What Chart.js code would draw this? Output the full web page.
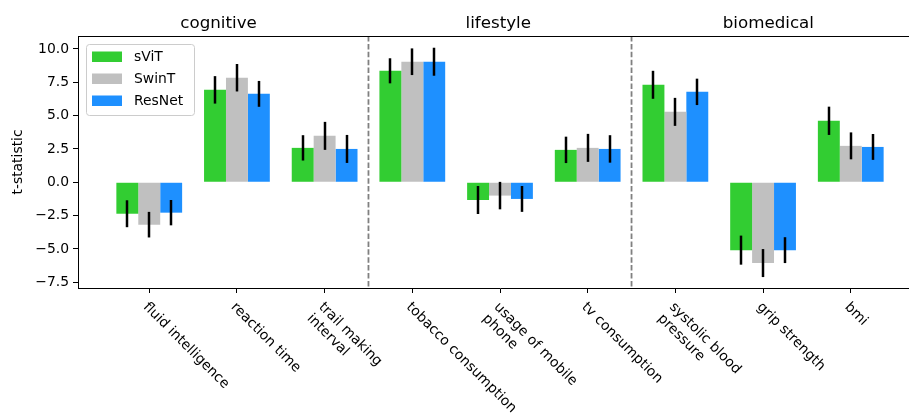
<!DOCTYPE html>
<html>
<head>
<meta charset="utf-8">
<script src="https://cdn.jsdelivr.net/npm/chart.js@4/dist/chart.umd.min.js"></script>
<style>
    html, body { margin: 0; padding: 0; overflow: hidden; background: #ffffff; }
    #wrap { width: 922px; height: 418px; }
</style>
</head>
<body>
<div id="wrap"><canvas id="tstat-chart"></canvas></div>
<script>
// Categories shown along the x axis (\n = second line)
const categories = [
    'fluid intelligence', 'reaction time', 'trail making\ninterval',
    'tobacco consumption', 'usage of mobile\nphone', 'tv consumption',
    'systolic blood\npressure', 'grip strength', 'bmi'
];

// Group headings above the plot and where they sit (in category units)
const groupNames = ['cognitive', 'lifestyle', 'biomedical'];
const groupCenters = [0.79, 3.98, 7.06];
// Dashed separators between groups
const separators = [2.5, 5.5];

// t-statistic per model
const svitValues = [-2.36, 6.93, 2.58, 8.36, -1.33, 2.43, 7.31, -5.09, 4.61];
const swintValues = [-3.18, 7.84, 3.48, 9.04, -1.0, 2.58, 5.28, -6.06, 2.73];
const resnetValues = [-2.28, 6.63, 2.50, 9.04, -1.25, 2.50, 6.78, -5.09, 2.65];

// Error bar half-lengths per model
const svitErrors = [1.01, 1.03, 0.95, 0.94, 1.05, 0.99, 1.05, 1.09, 1.06];
const swintErrors = [0.96, 1.03, 1.05, 1.0, 1.03, 1.05, 1.05, 1.05, 1.01];
const resnetErrors = [0.95, 0.97, 1.05, 1.05, 0.97, 1.03, 0.99, 0.97, 0.97];

// y axis ticks
const yTicks = [-7.5, -5.0, -2.5, 0.0, 2.5, 5.0, 7.5, 10.0];

const FONT = "'DejaVu Sans', sans-serif";

// Helper to turn a value list into {x, y} points
function toPoints(values) {
    return values.map((v, i) => ({ x: i, y: v }));
}

const errorSets = [svitErrors, swintErrors, resnetErrors];

// Plugin: error bars, separators, group titles, rotated labels, legend, frame
const decorations = {
    id: 'decorations',
    afterDatasetsDraw(chart) {
        const ctx = chart.ctx;
        const xScale = chart.scales.x;
        const yScale = chart.scales.y;
        const area = chart.chartArea;

        // dashed separators
        ctx.save();
        ctx.strokeStyle = '#808080';
        ctx.lineWidth = 1.8;
        ctx.setLineDash([5.5, 2.4]);
        separators.forEach(s => {
            const x = xScale.getPixelForValue(s);
            ctx.beginPath();
            ctx.moveTo(x, area.top);
            ctx.lineTo(x, area.bottom);
            ctx.stroke();
        });
        ctx.restore();

        // error bars
        ctx.save();
        ctx.strokeStyle = '#000000';
        ctx.lineWidth = 2.5;
        chart.data.datasets.forEach((ds, d) => {
            const meta = chart.getDatasetMeta(d);
            meta.data.forEach((bar, i) => {
                const v = ds.data[i].y;
                const e = errorSets[d][i];
                ctx.beginPath();
                ctx.moveTo(Math.round(bar.x), yScale.getPixelForValue(v + e));
                ctx.lineTo(Math.round(bar.x), yScale.getPixelForValue(v - e));
                ctx.stroke();
            });
        });
        ctx.restore();
    },
    afterDraw(chart) {
        const ctx = chart.ctx;
        const xScale = chart.scales.x;
        const area = chart.chartArea;

        // frame (top spine; right spine falls outside the window)
        ctx.save();
        ctx.strokeStyle = '#000000';
        ctx.lineWidth = 1;
        ctx.beginPath();
        ctx.moveTo(area.left, area.top + 0.5);
        ctx.lineTo(area.right, area.top + 0.5);
        ctx.stroke();
        ctx.restore();

        // group headings
        ctx.save();
        ctx.fillStyle = '#000000';
        ctx.font = '16.7px ' + FONT;
        ctx.textAlign = 'center';
        ctx.textBaseline = 'alphabetic';
        groupNames.forEach((name, k) => {
            ctx.fillText(name, xScale.getPixelForValue(groupCenters[k]), 28);
        });
        ctx.restore();

        // rotated x labels
        ctx.save();
        ctx.fillStyle = '#000000';
        ctx.font = '13.9px ' + FONT;
        ctx.textAlign = 'left';
        ctx.textBaseline = 'top';
        categories.forEach((label, i) => {
            const x = xScale.getPixelForValue(i) + 1;
            const y = area.bottom + 12;
            ctx.save();
            ctx.translate(x, y);
            ctx.rotate(Math.PI / 4);
            label.split('\n').forEach((line, k) => {
                ctx.fillText(line, 0, k * 16.4);
            });
            ctx.restore();
        });
        ctx.restore();

        // legend box
        ctx.save();
        const lx = area.left + 8, ly = area.top + 8, lw = 108, lh = 71;
        ctx.fillStyle = 'rgba(255,255,255,0.8)';
        ctx.strokeStyle = '#cccccc';
        ctx.lineWidth = 1;
        ctx.beginPath();
        ctx.roundRect(lx + 0.5, ly + 0.5, lw, lh, 3);
        ctx.fill();
        ctx.stroke();
        ctx.font = '13.9px ' + FONT;
        ctx.textAlign = 'left';
        ctx.textBaseline = 'middle';
        chart.data.datasets.forEach((ds, d) => {
            const cy = ly + 12.5 + d * 22;
            ctx.fillStyle = ds.backgroundColor;
            ctx.fillRect(lx + 6, cy - 5, 30, 10.5);
            ctx.fillStyle = '#000000';
            ctx.fillText(ds.label, lx + 48, cy + 0.5);
        });
        ctx.restore();
    }
};

const ctx = document.getElementById('tstat-chart').getContext('2d');

const tstatChart = new Chart(ctx, {
    type: 'bar',
    data: {
        datasets: [
            { label: 'sViT', data: toPoints(svitValues), backgroundColor: '#32CD32' },
            { label: 'SwinT', data: toPoints(swintValues), backgroundColor: '#C0C0C0' },
            { label: 'ResNet', data: toPoints(resnetValues), backgroundColor: '#1E90FF' }
        ]
    },
    options: {
        responsive: true,
        maintainAspectRatio: false,
        devicePixelRatio: 1,
        animation: false,
        layout: { padding: { top: 36, left: 0, right: 0, bottom: 0 } },
        datasets: {
            bar: {
                categoryPercentage: 0.75,
                barPercentage: 1.0,
                borderWidth: 0
            }
        },
        plugins: {
            legend: { display: false },
            tooltip: { enabled: false }
        },
        scales: {
            x: {
                type: 'linear',
                offset: false,
                min: -0.8125,
                max: 8.8125,
                afterBuildTicks: scale => {
                    scale.ticks = categories.map((c, i) => ({ value: i }));
                },
                afterFit: scale => { scale.height = 130; },
                ticks: {
                    callback: () => '',
                    autoSkip: false
                },
                grid: {
                    display: true,
                    offset: false,
                    drawOnChartArea: false,
                    drawTicks: true,
                    tickLength: 5,
                    tickWidth: 1,
                    color: '#000000'
                },
                border: { display: true, color: '#000000', width: 1 }
            },
            y: {
                min: -7.93,
                max: 10.97,
                afterBuildTicks: scale => {
                    scale.ticks = yTicks.map(v => ({ value: v }));
                },
                afterFit: scale => { scale.width = 78; },
                ticks: {
                    color: '#000000',
                    font: { family: FONT, size: 13.9 },
                    padding: 4,
                    callback: value => value.toFixed(1).replace('-', '\u2212')
                },
                grid: {
                    display: true,
                    drawOnChartArea: false,
                    drawTicks: true,
                    tickLength: 5,
                    tickWidth: 1,
                    color: '#000000'
                },
                border: { display: true, color: '#000000', width: 1 },
                title: {
                    display: true,
                    text: 't-statistic',
                    color: '#000000',
                    font: { family: FONT, size: 13.9 },
                    padding: { top: 10, bottom: 0 }
                }
            }
        }
    },
    plugins: [decorations]
});
</script>
</body>
</html>
